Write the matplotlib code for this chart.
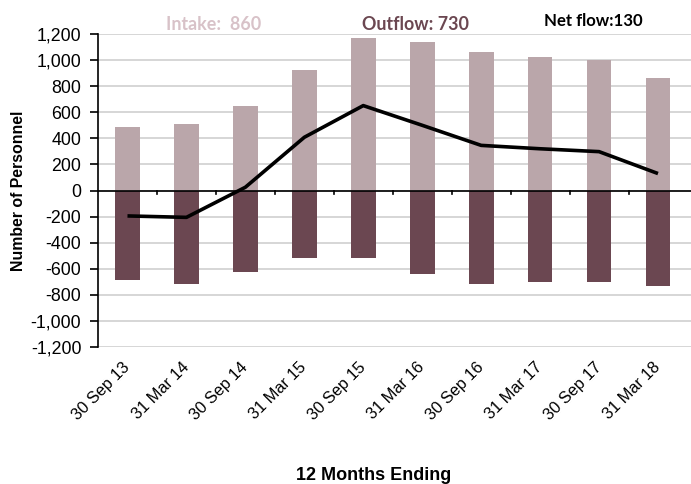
import matplotlib
matplotlib.use("Agg")
import matplotlib.pyplot as plt
import numpy as np

categories = ["30 Sep 13", "31 Mar 14", "30 Sep 14", "31 Mar 15", "30 Sep 15",
              "31 Mar 16", "30 Sep 16", "31 Mar 17", "30 Sep 17", "31 Mar 18"]
intake = [490, 512, 647, 925, 1168, 1140, 1064, 1023, 998, 860]
outflow = [-685, -718, -622, -517, -517, -640, -718, -703, -700, -730]
net_flow = [-195, -206, 25, 408, 651, 500, 346, 320, 298, 130]
yticks = list(range(-1200, 1201, 200))

plt.rcParams['font.family'] = ['Liberation Sans', 'DejaVu Sans']

fig = plt.figure(figsize=(6.91, 4.84), dpi=100)
ax = fig.add_axes([98/691, 1 - 347/484, 593/691, (347-34)/484])

x = np.arange(len(categories))
c_in = "#baa6aa"
c_out = "#6b4751"
ax.bar(x, intake, width=0.42, color=c_in, zorder=2)
ax.bar(x, outflow, width=0.42, color=c_out, zorder=2)
ax.plot(x, net_flow, color="black", lw=2.6, zorder=3, solid_capstyle='butt')

ax.set_xlim(-0.5, len(categories) - 0.5 + 0.06)
ax.set_ylim(-1200, 1200)
ax.set_yticks(yticks)
ax.set_yticklabels([f"{v:,}" for v in yticks], fontsize=12.8)
ax.yaxis.grid(True, color="#d0d0d0", lw=1.2, zorder=0)
ax.set_axisbelow(True)

for s in ["top", "right", "bottom"]:
    ax.spines[s].set_visible(False)
ax.spines["left"].set_linewidth(1.2)
ax.axhline(0, color="black", lw=1.2, zorder=2.5)
# ticks on the zero line at category boundaries
for b in np.arange(0.5, len(categories) - 1, 1.0):
    ax.plot([b, b], [0, -30], color="black", lw=1.2, zorder=2.5, clip_on=False)

ax.tick_params(axis="y", direction="out", length=6, width=1.2, pad=6)
ax.set_xticks(x)
ax.set_xticklabels(categories, rotation=45, ha="right", va="center",
                   rotation_mode="anchor", fontsize=11.8)
ax.tick_params(axis="x", length=0, pad=13)

ax.set_ylabel("Number of Personnel", fontsize=11.4, fontweight="bold")
ax.yaxis.set_label_coords((26 - 98) / 593, 0.5)
fig.text(374/691, 1 - 476/484, "12 Months Ending", fontsize=13, fontweight="bold",
         ha="center", va="center")

fig.text(214/691, 1 - 24/484, "Intake:  860", fontsize=12.9, fontweight="bold",
         color="#d8c2c8", ha="center", va="center", family=["Lato", "DejaVu Sans"])
fig.text(416/691, 1 - 24/484, "Outflow: 730", fontsize=12.9, fontweight="bold",
         color=c_out, ha="center", va="center", family=["Lato", "DejaVu Sans"])
fig.text(593/691, 1 - 21/484, "Net flow:130", fontsize=12.1, fontweight="bold",
         color="black", ha="center", va="center", family=["Lato", "DejaVu Sans"])

fig.savefig("out.png", dpi=100)
